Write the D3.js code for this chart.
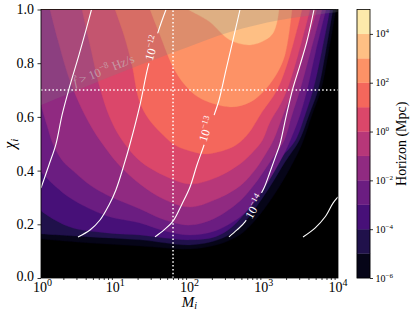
<!DOCTYPE html>
<html>
<head>
<meta charset="utf-8">
<script src="https://cdn.jsdelivr.net/npm/d3@7/dist/d3.min.js"></script>
<style>
html,body{margin:0;padding:0;background:#fff;}
svg{display:block;}
</style>
</head>
<body>
<svg id="chart" width="415" height="315"></svg>
<script>
// ---------------- data ----------------
const colorbarLevels = [1e-6,1e-5,1e-4,1e-3,1e-2,1e-1,1e0,1e1,1e2,1e3,1e4,1e5];
const colorbarTickValues = [1e-6,1e-4,1e-2,1e0,1e2,1e4];
const xMajorTicks = [1,10,100,1000,10000];
const xMinorTicks = [2,3,4,5,6,7,8,9,20,30,40,50,60,70,80,90,200,300,400,500,600,700,800,900,2000,3000,4000,5000,6000,7000,8000,9000];
const yTickValues = [0,0.2,0.4,0.6,0.8,1.0];

// lower boundary of each filled Horizon band, [M_i, chi_i]
const horizon_1e_6 = [[1,0.145],[4.57,0.130],[21.5,0.119],[101.6,0.108],[258,0.127],[450,0.156],[653,0.194],[947,0.246],[1375,0.309],[2121,0.395],[3276,0.499],[4467,0.607],[5902,0.700],[7564,0.849],[9398,1.0]];
const horizon_1e_5 = [[1,0.164],[4.57,0.153],[21.5,0.142],[101.6,0.123],[242,0.142],[410,0.175],[613,0.223],[864,0.279],[1253,0.346],[1932,0.432],[2984,0.510],[4071,0.607],[5378,0.700],[6893,0.849],[8564,1.0]];
const horizon_1e_4 = [[1,0.250],[1.54,0.216],[2.70,0.186],[7.74,0.168],[21.5,0.160],[46.8,0.149],[101.6,0.142],[220,0.153],[374,0.190],[559,0.242],[787,0.298],[1106,0.365],[1707,0.447],[2636,0.510],[3596,0.607],[4607,0.700],[6088,0.849],[7802,1.0]];
const horizon_1e_3 = [[1,0.395],[1.54,0.343],[2.70,0.291],[7.74,0.231],[21.5,0.205],[46.8,0.175],[101.6,0.160],[220,0.175],[479,0.227],[695,0.272],[977,0.328],[1375,0.395],[1816,0.455],[2258,0.510],[3078,0.607],[3826,0.700],[5055,0.849],[6893,1.0]];
const horizon_1e_2 = [[1,0.644],[1.20,0.570],[1.45,0.499],[1.92,0.439],[2.70,0.399],[4.57,0.346],[7.74,0.309],[21.5,0.257],[46.8,0.216],[101.6,0.197],[220,0.223],[479,0.287],[739,0.346],[1072,0.410],[1463,0.466],[1873,0.510],[2402,0.607],[3078,0.700],[4331,0.849],[6088,1.0]];
const horizon_1e_1 = [[1.32,1.0],[1.69,0.886],[2.31,0.756],[3.35,0.644],[4.86,0.559],[7.05,0.492],[11.6,0.417],[21.5,0.350],[46.8,0.291],[101.6,0.264],[220,0.291],[479,0.343],[762,0.402],[1040,0.458],[1333,0.510],[1816,0.607],[2477,0.700],[3596,0.849],[5214,1.0]];
const horizon_1e0 = [[3.57,1.0],[4.57,0.868],[6.23,0.708],[8.50,0.596],[12.3,0.514],[21.5,0.436],[46.8,0.380],[101.6,0.350],[220,0.372],[479,0.425],[695,0.466],[947,0.510],[1214,0.581],[1655,0.644],[2056,0.700],[2893,0.831],[4199,1.0]];
const horizon_1e1 = [[9.93,1.0],[13.1,0.905],[16.8,0.793],[20.9,0.663],[27.6,0.596],[40.1,0.544],[63.8,0.495],[101.6,0.473],[162,0.462],[274,0.473],[423,0.495],[613,0.536],[947,0.618],[1508,0.700],[2258,0.831],[3276,1.0]];
const horizon_1e2 = [[29.4,1.0],[40.1,0.905],[60,0.786],[86.9,0.719],[138,0.670],[351,0.637],[653,0.655],[977,0.693],[1463,0.756],[1932,0.831],[2402,1.0]];
const horizon_1e3 = [[95.4,1.0],[130,0.980],[189,0.953],[351,0.886],[653,0.868],[1040,0.886],[1333,0.912],[1508,0.953],[1605,1.0]];

// white contour lines of the second quantity
const strainLineA = [[4.79,1.0],[4.04,0.924],[3.25,0.831],[2.38,0.704],[1.92,0.607],[1.59,0.499],[1.28,0.421],[1.0,0.335]];
const strain_1e_12 = [[48.3,1.0],[37.7,0.916],[27.6,0.786],[21.5,0.644],[15.8,0.499],[13.1,0.421],[10.2,0.328],[8.24,0.272],[6.23,0.216],[4.57,0.179],[3.15,0.153]];
const strain_1e_13 = [[479,1.0],[385,0.886],[310,0.775],[250,0.663],[195,0.574],[152,0.484],[126,0.421],[101.6,0.339],[79.3,0.276],[60,0.212],[45.4,0.179],[34.3,0.153]];
const strain_1e_14 = [[4752,1.0],[3826,0.883],[3078,0.793],[2477,0.708],[1993,0.600],[1655,0.499],[1418,0.447],[1214,0.395],[1007,0.335],[739,0.268],[559,0.209],[436,0.179],[340,0.153]];
const strainLineE = [[3379,0.153],[4901,0.186],[6683,0.227],[8564,0.279],[10000,0.302]];

// contour label exponents and positions [M_i, chi_i]
const strainLabelExps = ["\u221212","\u221213","\u221214"];
const strainLabelPos = [[31.0,0.857],[167,0.555],[739,0.266]];

// fdot > 1e-8 Hz/s shaded region boundary
const fdotBoundary = [[1,0.644],[4.57,0.719],[21.5,0.793],[74.5,0.849],[351,0.916],[1655,0.961],[10000,0.991]];
const fdotLabelPos = [2.87,0.714];

// dotted reference lines
const refM = [60];
const refChi = [0.7];

// ---------------- drawing ----------------
const svg = d3.select("#chart");
const FONT = "'Liberation Serif','DejaVu Serif',serif";
const x = d3.scaleLog().domain([1,1e4]).range([41,338]);
const y = d3.scaleLinear().domain([0,1]).range([278,9.5]);
const cbY = d3.scaleLog().domain([1e-6,1e5]).range([278,9.5]);
const bandColor = i => d3.interpolateMagma((i+0.5)/11);

const defs = svg.append("defs");
defs.append("clipPath").attr("id","plotclip").append("rect")
  .attr("x",x(1)).attr("y",y(1)).attr("width",x(1e4)-x(1)).attr("height",y(0)-y(1));

const line = d3.line().x(d=>x(d[0])).y(d=>y(d[1])).curve(d3.curveCatmullRom.alpha(0.5));

const plot = svg.append("g").attr("clip-path","url(#plotclip)");
plot.append("rect").attr("x",x(1)).attr("y",y(1)).attr("width",x(1e4)-x(1)).attr("height",y(0)-y(1)).attr("fill","#000");

const boundaries = [horizon_1e_6,horizon_1e_5,horizon_1e_4,horizon_1e_3,horizon_1e_2,horizon_1e_1,horizon_1e0,horizon_1e1,horizon_1e2,horizon_1e3];
boundaries.forEach((pts,i)=>{
  plot.append("path")
    .attr("d", line(pts) + `L${x(1)},${y(1)}Z`)
    .attr("fill", bandColor(i))
    .attr("stroke", bandColor(i)).attr("stroke-width",0.3);
});

// shaded fdot region
plot.append("path")
  .attr("d", line(fdotBoundary) + `L${x(1e4)},${y(1)}L${x(1)},${y(1)}Z`)
  .attr("fill","#808080").attr("fill-opacity",0.25);

// labels for the white contour lines (and gaps)
const strainLines = [strainLineA,strain_1e_12,strain_1e_13,strain_1e_14,strainLineE];
const labelled = [strain_1e_12,strain_1e_13,strain_1e_14];
const mask = defs.append("mask").attr("id","lblmask").attr("maskUnits","userSpaceOnUse")
  .attr("x",0).attr("y",0).attr("width",415).attr("height",315);
mask.append("rect").attr("x",0).attr("y",0).attr("width",415).attr("height",315).attr("fill","#fff");

function localAngle(pts, cx, cy){
  const p = pts.map(d=>[x(d[0]),y(d[1])]);
  let best=1e9, ang=0;
  for(let k=0;k<p.length-1;k++){
    const mx=(p[k][0]+p[k+1][0])/2, my=(p[k][1]+p[k+1][1])/2;
    const dd=(mx-cx)**2+(my-cy)**2;
    if(dd<best){best=dd; ang=Math.atan2(p[k+1][1]-p[k][1], p[k+1][0]-p[k][0])*180/Math.PI;}
  }
  if(ang>90) ang-=180;
  if(ang<-90) ang+=180;
  return ang;
}

const lineG = svg.append("g").attr("clip-path","url(#plotclip)");
const linesInner = lineG.append("g").attr("mask","url(#lblmask)");
strainLines.forEach(pts=>{
  linesInner.append("path").attr("d",line(pts)).attr("fill","none")
    .attr("stroke","#fff").attr("stroke-width",1.1);
});

const labelG = svg.append("g");
labelled.forEach((pts,j)=>{
  const cx = x(strainLabelPos[j][0]), cy = y(strainLabelPos[j][1]);
  const a = localAngle(pts,cx,cy);
  const g = labelG.append("g").attr("transform",`translate(${cx},${cy}) rotate(${a})`);
  const t = g.append("text").attr("x",0).attr("y",4.5).attr("text-anchor","middle")
    .attr("fill","#fff").attr("font-family",FONT).attr("font-size",12);
  t.append("tspan").text("10");
  t.append("tspan").attr("dy",-5).attr("font-size",8.5).text(strainLabelExps[j]);
  const len = t.node().getComputedTextLength();
  mask.append("rect").attr("x",-len/2-3).attr("y",-7).attr("width",len+6).attr("height",14)
    .attr("fill","#000").attr("transform",`translate(${cx},${cy}) rotate(${a})`);
});

// dotted reference lines
refM.forEach(m=>{
  plot.append("line").attr("x1",x(m)).attr("x2",x(m)).attr("y1",y(0)).attr("y2",y(1))
    .attr("stroke","#fff").attr("stroke-width",1.5).attr("stroke-dasharray","1.5,2.3");
});
refChi.forEach(c=>{
  plot.append("line").attr("x1",x(1)).attr("x2",x(1e4)).attr("y1",y(c)).attr("y2",y(c))
    .attr("stroke","#fff").attr("stroke-width",1.5).attr("stroke-dasharray","1.5,2.3");
});

// fdot label
{
  const p0=[x(fdotBoundary[0][0]),y(fdotBoundary[0][1])], p1=[x(fdotBoundary[2][0]),y(fdotBoundary[2][1])];
  const a = Math.atan2(p1[1]-p0[1],p1[0]-p0[0])*180/Math.PI;
  const lx=x(fdotLabelPos[0]), ly=y(fdotLabelPos[1]);
  const t = svg.append("text").attr("transform",`translate(${lx},${ly}) rotate(${a})`)
    .attr("font-family",FONT).attr("font-size",12.5).attr("fill","#c8c8c8").attr("fill-opacity",0.6);
  t.append("tspan").attr("font-style","italic").text("\u1E1F");
  t.append("tspan").text(" > 10");
  t.append("tspan").attr("dy",-5).attr("font-size",9).text("\u22128");
  t.append("tspan").attr("dy",5).text(" Hz/s");
}

// spines
svg.append("rect").attr("x",x(1)).attr("y",y(1)).attr("width",x(1e4)-x(1)).attr("height",y(0)-y(1))
  .attr("fill","none").attr("stroke","#000").attr("stroke-width",0.8);

// x axis
const xAx = svg.append("g").attr("transform",`translate(0,${y(0)})`);
xAx.call(d3.axisBottom(x).tickValues(xMajorTicks).tickSize(3.5).tickFormat(""));
xAx.call(d3.axisBottom(x).tickValues(xMinorTicks).tickSize(2).tickFormat(""));
xAx.selectAll(".domain").remove();
xAx.selectAll("line").attr("stroke","#000").attr("stroke-width",0.8);
xMajorTicks.forEach(v=>{
  const t = svg.append("text").attr("x",x(v)+(v===1?1.5:0)).attr("y",292).attr("text-anchor","middle")
    .attr("font-family",FONT).attr("font-size",14).attr("fill","#000");
  t.append("tspan").text("10");
  t.append("tspan").attr("dy",-6).attr("font-size",10).text(String(Math.round(Math.log10(v))));
});

// y axis
const yAx = svg.append("g").attr("transform",`translate(${x(1)},0)`);
yAx.call(d3.axisLeft(y).tickValues(yTickValues).tickSize(3.5).tickPadding(3.5).tickFormat(d3.format(".1f")));
yAx.selectAll(".domain").remove();
yAx.selectAll("line").attr("stroke","#000").attr("stroke-width",0.8);
yAx.selectAll("text").attr("font-family",FONT).attr("font-size",14).attr("fill","#000");
yAx.selectAll("text").filter(d=>d===0).attr("dy","0.2em");

// axis labels
{
  const t = svg.append("text").attr("x",x(100)).attr("y",306.5).attr("text-anchor","middle")
    .attr("font-family",FONT).attr("font-size",15).attr("font-style","italic");
  t.append("tspan").text("M");
  t.append("tspan").attr("dy",2.5).attr("font-size",10).text("i");
  const u = svg.append("text").attr("transform",`translate(15,${y(0.5)}) rotate(-90)`).attr("text-anchor","middle")
    .attr("font-family",FONT).attr("font-size",16).attr("font-style","italic");
  u.append("tspan").text("\u03C7");
  u.append("tspan").attr("dy",3).attr("font-size",11).text("i");
}

// colorbar
const cb = svg.append("g");
colorbarLevels.slice(0,-1).forEach((lv,i)=>{
  cb.append("rect").attr("x",357).attr("width",13)
    .attr("y",cbY(colorbarLevels[i+1])).attr("height",cbY(lv)-cbY(colorbarLevels[i+1]))
    .attr("fill",bandColor(i)).attr("stroke",bandColor(i)).attr("stroke-width",0.3);
});
cb.append("rect").attr("x",357).attr("width",13).attr("y",cbY(1e5)).attr("height",cbY(1e-6)-cbY(1e5))
  .attr("fill","none").attr("stroke","#000").attr("stroke-width",0.8);
const cbAx = svg.append("g").attr("transform","translate(370,0)");
cbAx.call(d3.axisRight(cbY).tickValues(colorbarTickValues).tickSize(3).tickFormat(""));
cbAx.selectAll(".domain").remove();
cbAx.selectAll("line").attr("stroke","#000").attr("stroke-width",0.8);
colorbarTickValues.forEach(v=>{
  const t = svg.append("text").attr("x",375.5).attr("y",cbY(v)+3.5)
    .attr("font-family",FONT).attr("font-size",10).attr("fill","#000");
  t.append("tspan").text("10");
  const e = Math.round(Math.log10(v));
  t.append("tspan").attr("dy",-4).attr("font-size",7).text(e<0 ? "\u2212"+(-e) : String(e));
});
svg.append("text").attr("transform",`translate(406,${(cbY(1e5)+cbY(1e-6))/2}) rotate(-90)`)
  .attr("text-anchor","middle").attr("font-family",FONT).attr("font-size",14).attr("fill","#000")
  .text("Horizon (Mpc)");
</script>
</body>
</html>
